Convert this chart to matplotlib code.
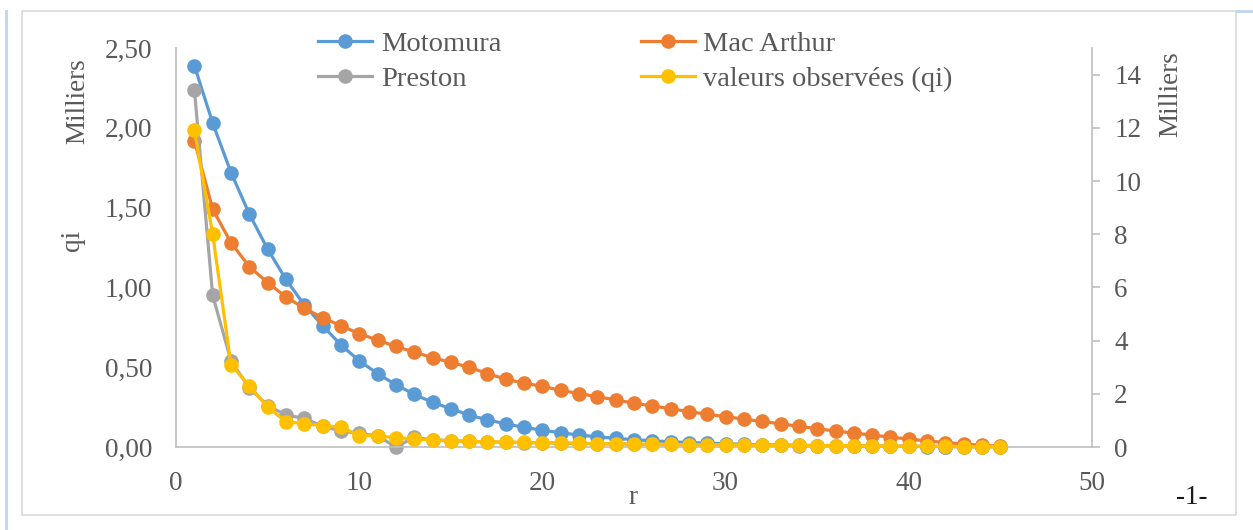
import matplotlib.pyplot as plt
import numpy as np

plt.rcParams['font.family'] = ['Liberation Serif', 'DejaVu Serif']

r = list(range(1, 46))
motomura = [2.39, 2.03, 1.72, 1.46, 1.24, 1.05, 0.89, 0.76, 0.64, 0.54,
            0.46, 0.39, 0.33, 0.28, 0.24, 0.20, 0.17, 0.145, 0.123, 0.105,
            0.089, 0.075, 0.064, 0.054, 0.046, 0.039, 0.033, 0.028, 0.024, 0.020,
            0.017, 0.015, 0.012, 0.010, 0.009, 0.008, 0.006, 0.005, 0.005, 0.004,
            0.003, 0.003, 0.002, 0.002, 0.002]
macarthur = [1.92, 1.49, 1.28, 1.13, 1.03, 0.94, 0.87, 0.81, 0.76, 0.71,
             0.67, 0.63, 0.595, 0.56, 0.53, 0.50, 0.46, 0.425, 0.40, 0.38,
             0.355, 0.335, 0.315, 0.295, 0.275, 0.257, 0.24, 0.222, 0.205, 0.19,
             0.175, 0.16, 0.145, 0.13, 0.115, 0.10, 0.087, 0.075, 0.062, 0.05,
             0.038, 0.028, 0.019, 0.01, 0.005]
preston = [2.24, 0.95, 0.54, 0.37, 0.26, 0.20, 0.18, 0.13, 0.10, 0.085,
           0.07, 0.0, 0.06, 0.045, 0.04, 0.035, 0.032, 0.03, 0.028, 0.026,
           0.024, 0.022, 0.02, 0.019, 0.018, 0.017, 0.016, 0.015, 0.014, 0.013,
           0.012, 0.011, 0.01, 0.009, 0.008, 0.007, 0.006, 0.005, 0.005, 0.004,
           0.004, 0.003, 0.003, 0.002, 0.002]
# valeurs observées, axe secondaire (milliers)
observees = [11.9, 8.0, 3.1, 2.3, 1.5, 0.95, 0.88, 0.80, 0.75, 0.43,
             0.42, 0.35, 0.30, 0.26, 0.23, 0.21, 0.20, 0.18, 0.17, 0.16,
             0.15, 0.14, 0.13, 0.12, 0.11, 0.10, 0.095, 0.09, 0.085, 0.08,
             0.075, 0.07, 0.065, 0.06, 0.055, 0.05, 0.045, 0.04, 0.035, 0.03,
             0.025, 0.02, 0.015, 0.01, 0.005]
yticks_left = [0, 0.5, 1.0, 1.5, 2.0, 2.5]
yticks_right = [0, 2, 4, 6, 8, 10, 12, 14]

txt = '#595959'
grid_c = '#BFBFBF'

fig = plt.figure(figsize=(12.53, 5.30), dpi=100)
ax = fig.add_axes([0.1405, 0.1566, 0.731, 0.7528])
ax2 = ax.twinx()

kw = dict(lw=2.3, marker='o', ms=9.5, clip_on=False)
l1, = ax.plot(r, motomura, color='#5B9BD5', label='Motomura', **kw)
l2, = ax.plot(r, macarthur, color='#ED7D31', label='Mac Arthur', **kw)
l3, = ax.plot(r, preston, color='#A5A5A5', label='Preston', **kw)
l4, = ax2.plot(r, observees, color='#FFC000', label='valeurs observées (qi)', **kw)

ax.set_xlim(0, 50)
ax.set_ylim(0, 2.5)
ax2.set_ylim(0, 15)
ax.set_xticks(np.arange(0, 51, 10))
ax.set_yticks(yticks_left)
ax.set_yticklabels([('%.2f' % v).replace('.', ',') for v in yticks_left])
ax2.set_yticks(yticks_right)

for a in (ax, ax2):
    for s in a.spines.values():
        s.set_visible(False)
ax.spines['left'].set_visible(True)
ax.spines['bottom'].set_visible(True)
ax2.spines['right'].set_visible(True)
for s in ('left', 'bottom'):
    ax.spines[s].set_color(grid_c)
    ax.spines[s].set_linewidth(1.2)
ax2.spines['right'].set_color(grid_c)
ax2.spines['right'].set_linewidth(1.2)

ax.tick_params(axis='y', length=0, labelsize=19.5, labelcolor=txt, pad=17)
ax.tick_params(axis='x', length=0, labelsize=19.5, labelcolor=txt, pad=17)
ax2.tick_params(axis='y', length=6, color=grid_c, width=1.2, labelsize=19.5,
                labelcolor=txt, pad=10)

fig.text(0.505, 0.062, 'r', fontsize=19.5, color=txt, ha='center', va='center')
fig.text(0.058, 0.547, 'qi', fontsize=19.5, color=txt, ha='center', va='center', rotation=90)
fig.text(0.062, 0.81, 'Milliers', fontsize=19.5, color=txt, ha='center', va='center', rotation=90)
fig.text(0.9346, 0.823, 'Milliers', fontsize=19.5, color=txt, ha='center', va='center', rotation=90)
fig.text(0.9513, 0.062, '-1-', fontsize=19.5, color='#1a1a1a', ha='center', va='center')

leg = ax2.legend(handles=[l1, l3, l2, l4], ncol=2, loc='upper left',
                 bbox_to_anchor=(0.155, 1.042), frameon=False, fontsize=20.5,
                 handlelength=1.9, handletextpad=0.3, columnspacing=4.9,
                 labelspacing=0.32, borderpad=0, borderaxespad=0)
for t in leg.get_texts():
    t.set_color(txt)

# cadre du graphique
fig.add_artist(plt.Rectangle((0.0176, 0.028), 0.969, 0.952, transform=fig.transFigure,
                             fill=False, edgecolor='#D9D9D9', lw=1.2))
fig.add_artist(plt.Line2D([0.005, 0.005], [0.0, 0.98], transform=fig.transFigure,
                          color='#BDD7EE', lw=2))
fig.add_artist(plt.Line2D([0.987, 1.0], [0.98, 0.98], transform=fig.transFigure,
                          color='#BDD7EE', lw=2))

fig.savefig('out.png', dpi=100)
